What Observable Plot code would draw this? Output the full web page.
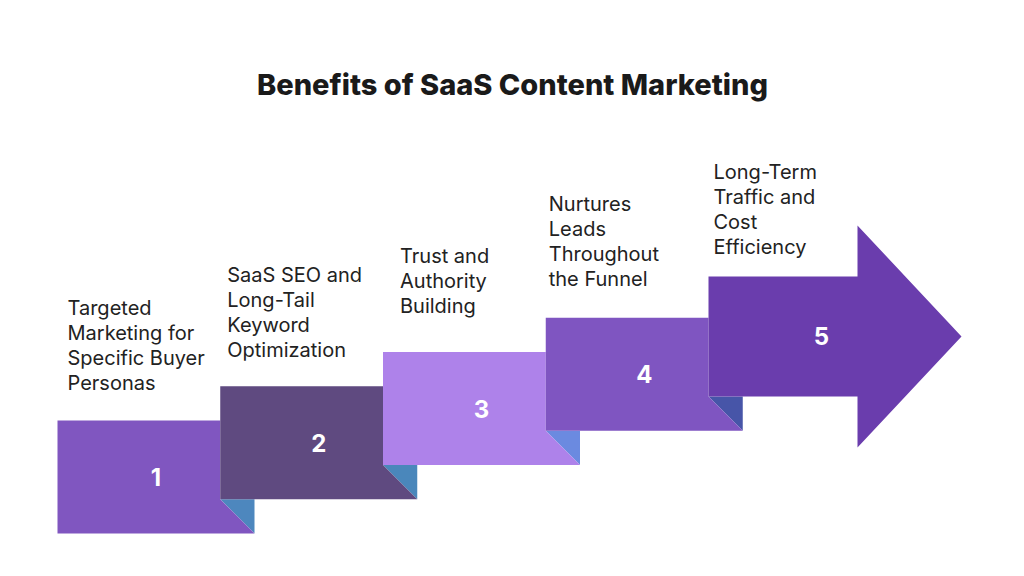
<!DOCTYPE html>
<html>
<head>
<meta charset="utf-8">
<script src="https://cdn.jsdelivr.net/npm/d3@7"></script>
<script src="https://cdn.jsdelivr.net/npm/@observablehq/plot@0.6"></script>
<style>
  html, body { margin: 0; padding: 0; background: #ffffff; }
  #chart svg { display: block; }
</style>
</head>
<body>
<div id="chart"></div>
<script>
// ---- data ----
const title = "Benefits of SaaS Content Marketing";
const steps = [1, 2, 3, 4, 5];
const labels = [
  "Targeted\nMarketing for\nSpecific Buyer\nPersonas",
  "SaaS SEO and\nLong-Tail\nKeyword\nOptimization",
  "Trust and\nAuthority\nBuilding",
  "Nurtures\nLeads\nThroughout\nthe Funnel",
  "Long-Term\nTraffic and\nCost\nEfficiency"
];
const blockColors = ["#8056c0", "#5f4a80", "#ae82ea", "#7f55c1", "#6a3dad"];
const foldColors = ["#4d87be", "#4a87bb", "#6b8ae0", "#4755a8"];

// ---- layout (pixel space of the 1024x576 canvas) ----
const X0 = 57, DX = 162.75, B0 = 533, DY = 34.25, W = 197, H = 113;
const labelGap = [31, 29, 39, 32, 23];   // baseline of last label line above block top
const labelInset = [10, 7, 17, 3, 5];
const FONT = "Inter, 'DejaVu Sans', sans-serif";

const geom = steps.map((s, i) => {
  const L = X0 + DX * i, B = B0 - DY * i;
  const T = i === 4 ? B - 120 : B - H;
  return {step: s, L, B, T, R: L + W, nL: L + DX, nB: B - DY};
});

const marks = [];
geom.forEach((g, i) => {
  if (i < 4) {
    const fold = [{x: g.nL, y: g.nB}, {x: g.R, y: g.nB}, {x: g.R, y: g.B}];
    const body = [{x: g.L, y: g.T}, {x: g.nL, y: g.T}, {x: g.nL, y: g.nB}, {x: g.R, y: g.B}, {x: g.L, y: g.B}];
    marks.push(Plot.line(fold, {x: "x", y: "y", fill: foldColors[i], stroke: "none"}));
    marks.push(Plot.line(body, {x: "x", y: "y", fill: blockColors[i], stroke: "none"}));
  } else {
    const hs = g.L + 149, tip = g.L + 253, mid = (g.T + g.B) / 2;
    const arrow = [
      {x: g.L, y: g.T}, {x: hs, y: g.T}, {x: hs, y: g.T - 51}, {x: tip, y: mid},
      {x: hs, y: g.B + 51}, {x: hs, y: g.B}, {x: g.L, y: g.B}
    ];
    marks.push(Plot.line(arrow, {x: "x", y: "y", fill: blockColors[i], stroke: "none"}));
  }
});

// step numbers
const numData = geom.map((g, i) => ({
  n: String(g.step),
  x: i === 4 ? g.L + 113 : g.L + W / 2,
  y: (g.T + g.B) / 2 + (i === 4 ? 0.5 : 1.5)
}));
marks.push(Plot.text(numData, {
  x: "x", y: "y", text: "n", fill: "#ffffff", fontSize: 24, fontWeight: 700,
  fontFamily: FONT, textAnchor: "middle", lineAnchor: "middle"
}));

// labels
const labData = geom.map((g, i) => ({
  t: labels[i], x: g.L + labelInset[i], y: g.T - labelGap[i]
}));
marks.push(Plot.text(labData, {
  x: "x", y: "y", text: "t", fill: "#222222", fontSize: 20, fontFamily: FONT,
  textAnchor: "start", lineAnchor: "bottom", lineHeight: 25 / 20,
  style: {letterSpacing: "0.15px"}
}));

// title
marks.push(Plot.text([title], {
  x: () => 512, y: () => 85, text: d => d, fill: "#1a1a1a", fontSize: 29,
  fontWeight: 800, fontFamily: FONT, textAnchor: "middle", lineAnchor: "middle",
  style: {letterSpacing: "-0.8px"}
}));

const chart = Plot.plot({
  width: 1024, height: 576,
  margin: 0,
  x: {domain: [0, 1024], range: [0, 1024], axis: null},
  y: {domain: [0, 576], range: [0, 576], axis: null},
  style: {background: "#ffffff"},
  marks
});
document.getElementById("chart").appendChild(chart);
</script>
</body>
</html>
